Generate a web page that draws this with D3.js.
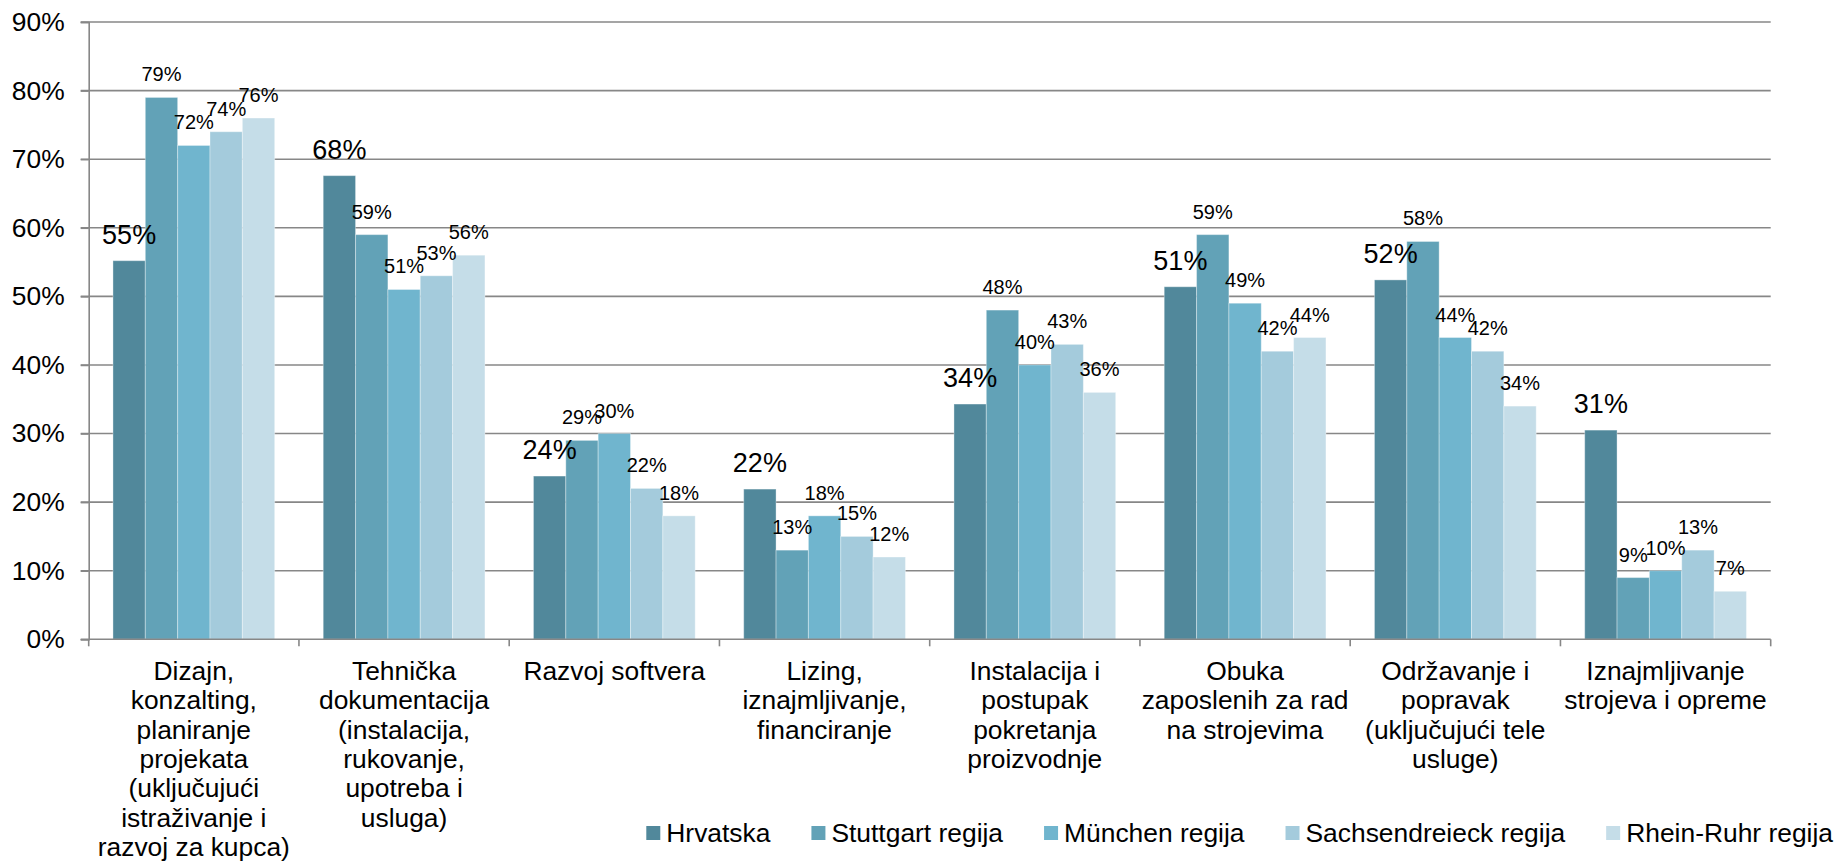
<!DOCTYPE html>
<html>
<head>
<meta charset="utf-8">
<script src="https://cdn.jsdelivr.net/npm/d3@7"></script>
<style>
  html, body { margin: 0; padding: 0; background: #ffffff; }
  svg { display: block; font-family: "Liberation Sans", Arial, sans-serif; }
</style>
</head>
<body>
<svg id="chart" width="1841" height="868"></svg>
<script>
// ---------- DATA ----------
const categories = [
  ["Dizajn,", "konzalting,", "planiranje", "projekata", "(uključujući", "istraživanje i", "razvoj za kupca)"],
  ["Tehnička", "dokumentacija", "(instalacija,", "rukovanje,", "upotreba i", "usluga)"],
  ["Razvoj softvera"],
  ["Lizing,", "iznajmljivanje,", "financiranje"],
  ["Instalacija i", "postupak", "pokretanja", "proizvodnje"],
  ["Obuka", "zaposlenih za rad", "na strojevima"],
  ["Održavanje i", "popravak", "(uključujući tele", "usluge)"],
  ["Iznajmljivanje", "strojeva i opreme"]
];
const seriesNames = ["Hrvatska", "Stuttgart regija", "München regija", "Sachsendreieck regija", "Rhein-Ruhr regija"];
const hrvatska   = [55.2, 67.6, 23.8, 21.9, 34.3, 51.4, 52.4, 30.5];
const stuttgart  = [79, 59, 29, 13, 48, 59, 58, 9];
const munchen    = [72, 51, 30, 18, 40, 49, 44, 10];
const sachsen    = [74, 53, 22, 15, 43, 42, 42, 13];
const rheinRuhr  = [76, 56, 18, 12, 36, 44, 34, 7];
const yTicks = [0, 10, 20, 30, 40, 50, 60, 70, 80, 90];
const colors = ["#51889b", "#62a2b7", "#70b5ce", "#a4cbdc", "#c5dde8"];

const seriesValues = [hrvatska, stuttgart, munchen, sachsen, rheinRuhr];

// ---------- LAYOUT ----------
const plotLeft = 88.7, plotRight = 1770.7, plotTop = 22, plotBottom = 639.3;
const svg = d3.select("#chart");
const fs = 26.4;

const catIdx = categories.map((c, i) => i);
const x0 = d3.scaleBand().domain(catIdx).range([plotLeft, plotRight]).paddingInner(0).paddingOuter(0);
const x1 = d3.scaleBand().domain(d3.range(seriesNames.length)).range([0, x0.bandwidth()]).paddingInner(0).paddingOuter(0.75);
const y = d3.scaleLinear().domain([0, 90]).range([plotBottom, plotTop]);

const gridColor = "#878787";

// gridlines
svg.append("g").selectAll("line").data(yTicks.filter(t => t > 0)).join("line")
  .attr("x1", plotLeft - 8).attr("x2", plotRight)
  .attr("y1", d => y(d)).attr("y2", d => y(d))
  .attr("stroke", gridColor).attr("stroke-width", 1.6);

// y axis
const yAxis = d3.axisLeft(y).tickValues(yTicks).tickFormat(d => d + "%").tickSize(8).tickPadding(16);
const gy = svg.append("g").attr("transform", `translate(${plotLeft},0)`).call(yAxis);
gy.select(".domain").attr("stroke", gridColor).attr("stroke-width", 1.6);
gy.selectAll(".tick line").attr("stroke", gridColor).attr("stroke-width", 1.6);
gy.selectAll(".tick text").attr("font-size", fs).attr("fill", "#000").attr("font-family", "Liberation Sans, Arial, sans-serif");

// bars
const rows = [];
catIdx.forEach(ci => {
  seriesValues.forEach((vals, si) => rows.push({ ci, si, v: vals[ci] }));
});

svg.append("g").selectAll("rect").data(rows).join("rect")
  .attr("x", d => x0(d.ci) + x1(d.si))
  .attr("y", d => y(d.v))
  .attr("width", x1.bandwidth())
  .attr("height", d => y(0) - y(d.v))
  .attr("fill", d => colors[d.si])
  .attr("stroke", "#ffffff").attr("stroke-opacity", 0.35).attr("stroke-width", 1);

// x axis line and ticks
svg.append("line").attr("x1", plotLeft - 8).attr("x2", plotRight).attr("y1", y(0)).attr("y2", y(0))
  .attr("stroke", gridColor).attr("stroke-width", 1.6);
const boundaries = catIdx.map(i => x0(i)).concat([x0(catIdx[catIdx.length - 1]) + x0.step()]);
svg.append("g").selectAll("line").data(boundaries).join("line")
  .attr("x1", d => d).attr("x2", d => d)
  .attr("y1", y(0)).attr("y2", y(0) + 7)
  .attr("stroke", gridColor).attr("stroke-width", 1.6);

// data labels
svg.append("g").selectAll("text").data(rows).join("text")
  .attr("x", d => x0(d.ci) + x1(d.si) + x1.bandwidth() / 2)
  .attr("y", d => y(d.v) - (d.si === 0 ? 17 : 16))
  .attr("text-anchor", "middle")
  .attr("font-size", d => d.si === 0 ? 27 : 20)
  .attr("fill", "#000")
  .text(d => Math.round(d.v) + "%");

// category labels
const catG = svg.append("g").selectAll("text").data(catIdx).join("text")
  .attr("x", d => x0(d) + x0.bandwidth() / 2)
  .attr("y", 680)
  .attr("text-anchor", "middle")
  .attr("font-size", fs)
  .attr("fill", "#000");
catG.selectAll("tspan").data(d => categories[d]).join("tspan")
  .attr("x", function () { return d3.select(this.parentNode).attr("x"); })
  .attr("dy", (d, i) => i === 0 ? 0 : 29.3)
  .text(d => d);

// legend (right aligned)
const legend = svg.append("g");
const items = legend.selectAll("g").data(seriesNames).join("g");
items.append("rect").attr("width", 14).attr("height", 14).attr("y", 826)
  .attr("fill", (d, i) => colors[i]);
items.append("text").attr("x", 20).attr("y", 841.5).attr("font-size", fs).attr("fill", "#000").text(d => d);
const widths = [];
items.each(function () { widths.push(20 + d3.select(this).select("text").node().getComputedTextLength()); });
const gap = 41;
const total = d3.sum(widths) + gap * (widths.length - 1);
let cx = 1833 - total;
items.each(function (d, i) {
  d3.select(this).attr("transform", `translate(${cx},0)`);
  cx += widths[i] + gap;
});
</script>
</body>
</html>
